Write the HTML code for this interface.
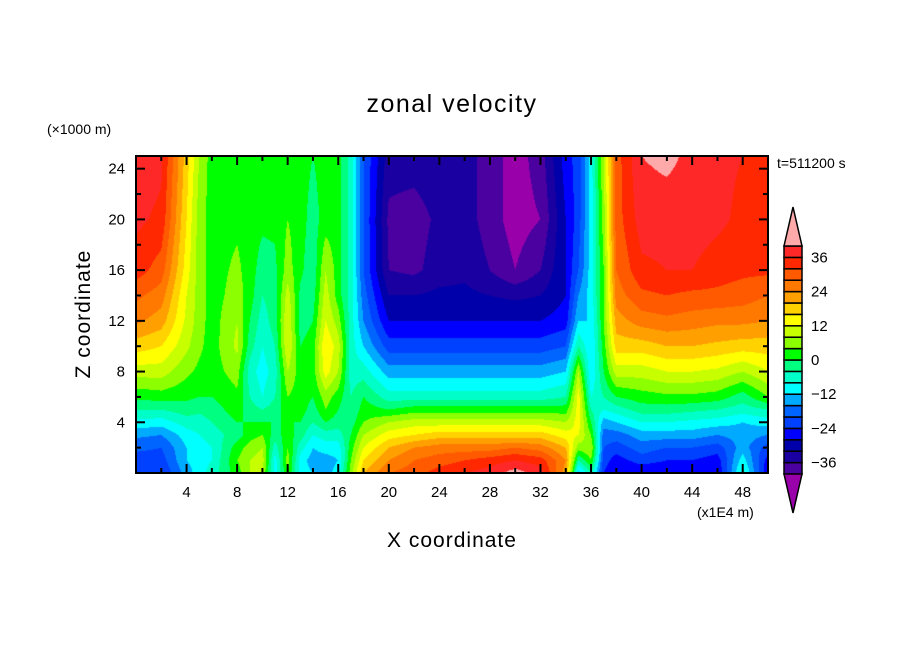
<!DOCTYPE html>
<html><head><meta charset="utf-8">
<style>
body{margin:0;background:#fff;width:904px;height:654px;overflow:hidden;font-family:"Liberation Sans","DejaVu Sans",sans-serif;}
#wrap{position:relative;width:904px;height:654px;}
canvas{position:absolute;left:136px;top:156px;}
svg{position:absolute;left:0;top:0;}
</style></head>
<body>
<div id="wrap">
<canvas id="cv" width="632" height="317"></canvas>
<svg id="sv" width="904" height="654"></svg>
</div>
<script>
// ---- data ----
const xCoords = [0,2,4,5,6,8,9,10,11,12,13,14,15,16,17,18,20,22,24,26,28,30,32,34,35,36,37,38,40,42,44,46,48,50];
const zLevels = [0,1,2,3,4,5,6,8,10,12,14,16,20,25];
const uCols = [
[-22,-22,-19,-15,-9,-4,1,10,18,25,29,34,37,39],
[-24,-22,-20,-16,-10,-4,2,10,16,22,26,30,35,37],
[-14,-12,-12,-10,-6,-2,1,5,9,11,12,14,16,18],
[-10,-10,-10,-8,-6,-3,0,3,5,6,6,6,6,8],
[-6,-8,-8,-6,-4,-2,0,2,2,2,2,2,2,2],
[2,4,2,-2,0,2,3,6,9,8,6,5,3,2],
[8,8,6,2,0,-2,-4,-6,-2,0,2,2,2,2],
[8,10,8,4,0,-4,-8,-10,-8,-6,-4,-2,1,2],
[-10,-10,-6,-2,0,-2,-4,-6,-4,-2,-2,-1,1,2],
[4,6,4,2,0,2,4,8,12,12,10,6,4,2],
[-10,-10,-6,-2,0,2,2,2,0,-2,-1,1,2,2],
[-12,-14,-12,-8,-4,-2,0,2,2,0,-2,-3,-2,0],
[-14,-14,-10,-6,0,4,6,14,16,12,10,8,2,2],
[-10,-12,-10,-6,-2,0,2,8,10,6,2,2,2,2],
[6,4,2,0,-2,-4,-4,-6,-6,-6,-6,-6,-6,-6],
[20,16,12,8,4,2,0,-6,-12,-16,-18,-20,-20,-20],
[28,24,20,14,8,0,-6,-14,-22,-28,-32,-36,-37,-34],
[30,28,24,16,10,2,-6,-14,-22,-28,-32,-37,-38,-34],
[34,30,26,18,10,2,-6,-14,-22,-28,-31,-34,-35,-33],
[36,32,26,18,10,2,-6,-14,-22,-28,-31,-33,-34,-34],
[38,34,26,18,10,2,-6,-14,-22,-28,-32,-36,-38,-38],
[42,36,28,18,10,2,-6,-14,-22,-28,-33,-40,-42,-42],
[38,34,26,18,10,2,-6,-14,-22,-28,-32,-36,-40,-38],
[22,24,20,14,8,2,-4,-12,-20,-26,-28,-28,-28,-26],
[-14,-4,6,12,14,14,14,8,-4,-12,-16,-20,-22,-22],
[-4,4,8,4,0,-4,-8,-12,-12,-12,-10,-10,-10,-10],
[-24,-22,-20,-18,-14,-8,-4,0,2,4,4,4,6,8],
[-28,-26,-22,-18,-12,-6,0,10,18,22,26,28,30,30],
[-28,-22,-18,-14,-8,-2,2,10,18,26,31,35,38,40],
[-28,-24,-20,-14,-8,-2,3,12,20,27,32,36,38,41],
[-28,-24,-20,-14,-9,-3,3,12,20,26,31,36,38,39],
[-28,-26,-22,-16,-10,-4,2,11,19,25,31,34,37,37],
[-6,-10,-14,-14,-12,-6,-2,8,18,25,30,33,35,36],
[-28,-26,-22,-16,-10,-4,4,12,18,24,28,33,34,34]
];
const xTicks = [4,8,12,16,20,24,28,32,36,40,44,48];
const zTicks = [4,8,12,16,20,24];
const cbLabels = [36,24,12,0,-12,-24,-36];
const palette = ["#4b00a0","#1a00a0","#0000aa","#0000ff","#0040ff","#0064ff","#00aaff","#00ffff","#00ffc8","#00ff80","#00ff00","#8cff00","#c8ff00","#ffff00","#ffd200","#ffa000","#ff7800","#ff5a00","#ff2800","#ff2828"];
const lowColor="#9900aa", highColor="#ffaaaa";

// ---- axes ----
const PX0=136,PX1=768,PY0=156,PY1=473,XMAX=50,ZMAX=25;
const sx=x=>PX0+x/XMAX*(PX1-PX0);
const sz=z=>PY1-z/ZMAX*(PY1-PY0);
function hex(c){return [parseInt(c.slice(1,3),16),parseInt(c.slice(3,5),16),parseInt(c.slice(5,7),16)];}
function colorOf(v){ if(v<-40) return lowColor; if(v>=40) return highColor; return palette[Math.min(19,Math.floor((v+40)/4))]; }
function seg(arr,v){ let i=0; while(i<arr.length-2 && v>arr[i+1]) i++; return i; }
function field(x,z){
  const i=seg(xCoords,x), j=seg(zLevels,z);
  const tx=Math.max(0,Math.min(1,(x-xCoords[i])/(xCoords[i+1]-xCoords[i])));
  const tz=Math.max(0,Math.min(1,(z-zLevels[j])/(zLevels[j+1]-zLevels[j])));
  const a=uCols[i][j],b=uCols[i+1][j],c=uCols[i][j+1],d=uCols[i+1][j+1];
  return (a*(1-tx)+b*tx)*(1-tz)+(c*(1-tx)+d*tx)*tz;
}
const cv=document.getElementById('cv'),ctx=cv.getContext('2d');
const W=cv.width,H=cv.height,img=ctx.createImageData(W,H);
const cache={};
for(let py=0;py<H;py++){
  const z=(PY1-(PY0+py+0.5))/(PY1-PY0)*ZMAX;
  for(let px=0;px<W;px++){
    const x=(px+0.5)/(PX1-PX0)*XMAX;
    const c=colorOf(field(x,z)); const rgb=cache[c]||(cache[c]=hex(c));
    const k=(py*W+px)*4; img.data[k]=rgb[0];img.data[k+1]=rgb[1];img.data[k+2]=rgb[2];img.data[k+3]=255;
  }
}
ctx.putImageData(img,0,0);

// ---- svg overlay ----
const NS="http://www.w3.org/2000/svg", sv=document.getElementById('sv');
function el(tag,attrs,txt){const e=document.createElementNS(NS,tag);for(const k in attrs)e.setAttribute(k,attrs[k]);if(txt!==undefined)e.textContent=txt;sv.appendChild(e);return e;}
let e;
e=el('rect',{x:PX0,y:PY0,width:PX1-PX0,height:PY1-PY0,fill:'none',stroke:'#000','stroke-width':2});


for(let x=2;x<XMAX;x+=2){
  const big=x%4===0, L=big?9:5;
  e=el('line',{x1:sx(x),x2:sx(x),y1:PY1,y2:PY1-L,stroke:'#000','stroke-width':2});
  
  
  e=el('line',{x1:sx(x),x2:sx(x),y1:PY0,y2:PY0+L,stroke:'#000','stroke-width':2});
  
  
}
for(let z=2;z<ZMAX;z+=2){
  const big=z%4===0, L=big?9:5;
  e=el('line',{x1:PX0,x2:PX0+L,y1:sz(z),y2:sz(z),stroke:'#000','stroke-width':2});
  
  
  e=el('line',{x1:PX1,x2:PX1-L,y1:sz(z),y2:sz(z),stroke:'#000','stroke-width':2});
  
  
}
xTicks.forEach(x=>{
  e=el('text',{x:sx(x),y:497,'font-size':15,'text-anchor':'middle'},String(x));
  
  
});
zTicks.forEach(z=>{
  e=el('text',{x:125,y:sz(z)+5,'font-size':15,'text-anchor':'end'},String(z));
  
  
});
const CB0=246,CB1=474,CX=784,CW=18,bh=(CB1-CB0)/20;
palette.forEach((c,i)=>{
  e=el('rect',{x:CX,y:CB1-(i+1)*bh,width:CW,height:bh,fill:c,stroke:'#000','stroke-width':1.5});
  
  
});
e=el('polygon',{points:`${CX},${CB0} ${CX+CW},${CB0} ${CX+CW/2},207`,fill:highColor,stroke:'#000','stroke-width':1.5});


e=el('polygon',{points:`${CX},${CB1} ${CX+CW},${CB1} ${CX+CW/2},513`,fill:lowColor,stroke:'#000','stroke-width':1.5});


cbLabels.forEach(v=>{
  const y=CB1-(v+40)/80*(CB1-CB0);
  e=el('text',{x:811,y:y+5,'font-size':15},String(v).replace('-','\u2212'));
  
  
});
e=el('text',{x:452,y:112,'font-size':25,'text-anchor':'middle','letter-spacing':'1.5'},'zonal velocity');


e=el('text',{x:47,y:134,'font-size':14},'(\u00d71000 m)');


e=el('text',{x:777,y:168,'font-size':14},'t=511200 s');


e=el('text',{x:697,y:517,'font-size':14},'(x1E4 m)');


e=el('text',{x:452,y:547,'font-size':21,'text-anchor':'middle','letter-spacing':'1'},'X coordinate');


e=el('text',{x:90,y:314,'font-size':21,'text-anchor':'middle','letter-spacing':'1',transform:'rotate(-90 90 314)'},'Z coordinate');


</script>
</body></html>
